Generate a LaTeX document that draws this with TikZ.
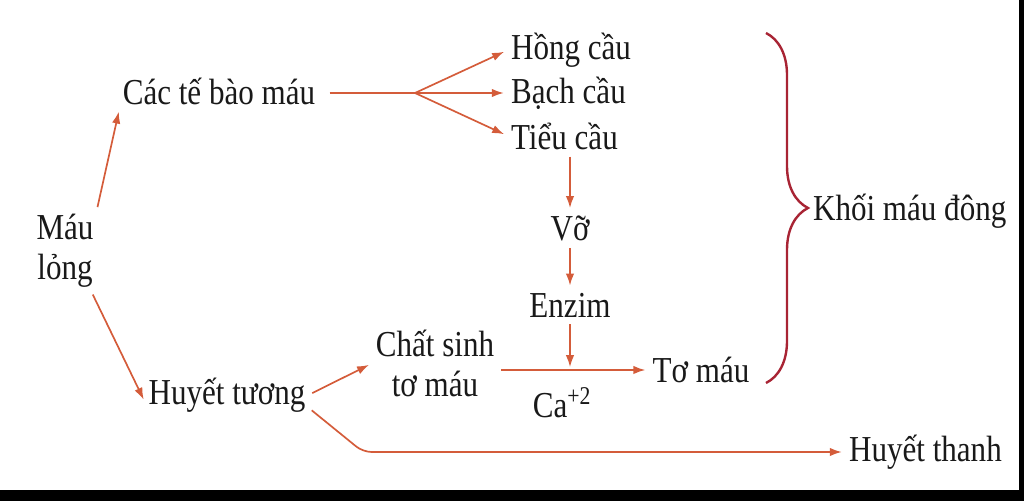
\documentclass[tikz,border=0pt]{standalone}
\usepackage{fontspec}
\setmainfont{Liberation Serif}[FakeStretch=0.85]
\usepackage{tikz}
\usetikzlibrary{positioning,arrows.meta,decorations.pathreplacing}
\definecolor{arrowred}{RGB}{212,92,58}
\definecolor{bracered}{RGB}{168,36,52}
\definecolor{inkgray}{RGB}{25,25,25}
\tikzset{>={Latex[length=8.5pt,width=6pt]}}

\begin{document}
\begin{tikzpicture}[every text node part/.style={align=center},
    every node/.style={text=inkgray, inner sep=2pt, font=\fontsize{26pt}{28.5pt}\selectfont},
    flow/.style={->, arrowred, line width=1.2pt, shorten <=3pt, shorten >=3pt}]
      \useasboundingbox (0,0) rectangle (25.6,12.525);
      \fill[black] (0,0) rectangle (25.6,0.27);
      \fill[black] (25.48,0) rectangle (25.6,12.525);

      \node (mau)    at (1.625,6.25)  {Máu\\lỏng};
      \node (cells)  at (5.475,10.25) {Các tế bào máu};
      \node (huyet)  at (5.675,2.65)  {Huyết tương};

      \node[anchor=west] (hong)  at (12.7,11.275) {Hồng cầu};
      \node[anchor=west] (bach)  at (12.7,10.2)   {Bạch cầu};
      \node[anchor=west] (tieu)  at (12.7,9.125)  {Tiểu cầu};

      \node (vo)     at (14.25,6.825) {Vỡ};
      \node (enzim)  at (14.25,4.9)   {Enzim};
      \node (chat)   at (10.875,3.45) {Chất sinh\\tơ máu};
      \node (ca)     at (14.05,2.45)  {Ca\textsuperscript{+2}};
      \node (to)     at (17.525,3.275) {Tơ máu};

      \node[anchor=west] (khoi)  at (20.25,7.25)  {Khối máu đông};
      \node[anchor=west] (thanh) at (21.15,1.225) {Huyết thanh};

      \coordinate (split) at (10.375,10.2);
      \coordinate (bend)  at (9.075,1.225);
      \coordinate (meet)  at (enzim.south |- to.west);

      \draw [flow] (mau.north east) -- (cells.south west);
      \draw [flow] ([xshift=-4pt]mau.south east) -- ([yshift=-6pt]huyet.west);

      \draw [arrowred, line width=1.2pt, shorten <=8pt] (cells.east |- split) -- (split);
      \draw [flow, shorten <=0pt] (split) -- (hong.west);
      \draw [flow, shorten <=0pt] (split) -- (bach.west);
      \draw [flow, shorten <=0pt] (split) -- (tieu.west);

      \draw [flow] (tieu.south -| vo.north) -- (vo.north);
      \draw [flow] (vo.south)   -- (enzim.north);
      \draw [flow, shorten >=2pt] (enzim.south) -- (meet);

      \draw [flow] (huyet.east) -- (chat.west);
      \draw [flow] (chat.east |- to.west) -- (to.west);
      \draw [flow, rounded corners=6pt] ([yshift=-9pt]huyet.east) -- (bend) -- (thanh.west);

      \draw [bracered, line width=1.7pt, decorate, decoration={brace, amplitude=1.05cm}]
            (19.15,11.7) -- (19.15,2.95);
    \end{tikzpicture}
\end{document}
